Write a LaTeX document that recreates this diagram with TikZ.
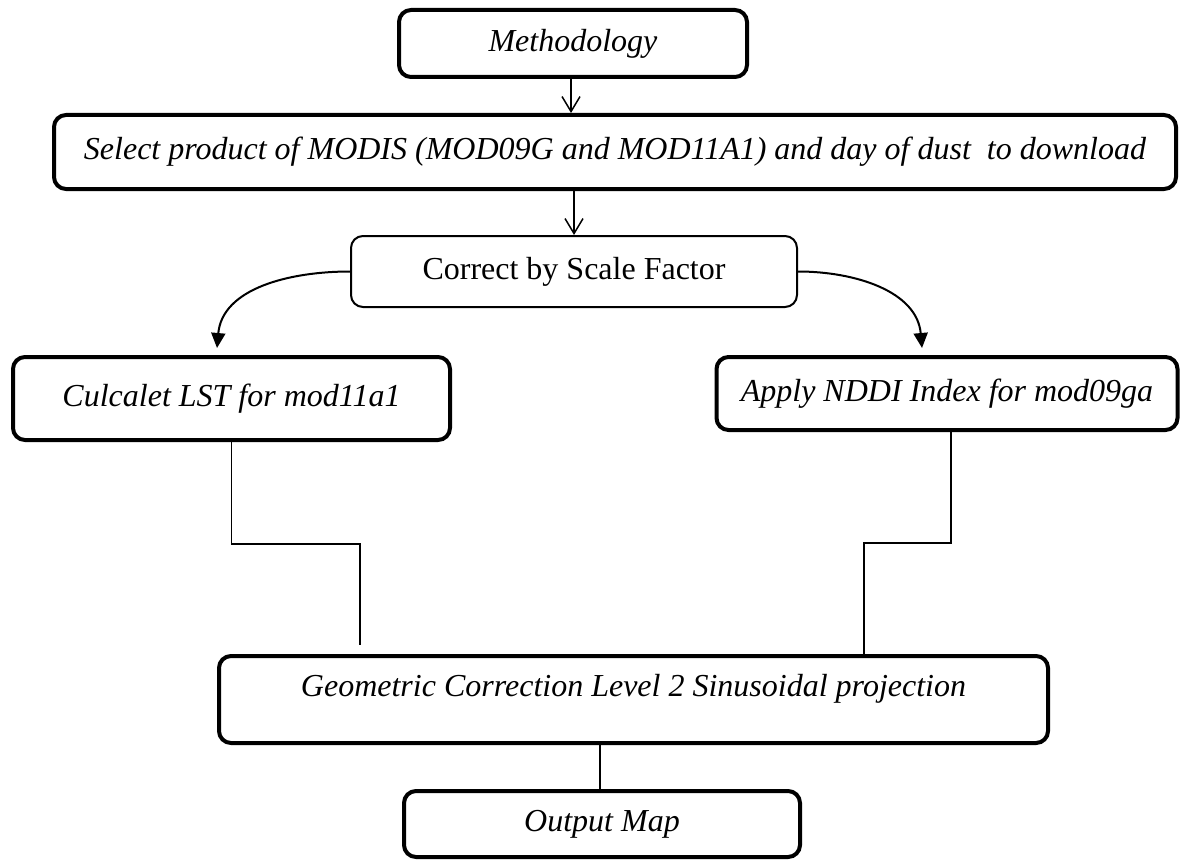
\documentclass[tikz,border=0pt]{standalone}
\usepackage{fontspec}
\setmainfont{Liberation Serif}
\usetikzlibrary{arrows.meta}
\tikzset{
  thickbox/.style={draw=black, line width=4pt, rounded corners=12pt, fill=white,
    font=\fontsize{32}{38}\selectfont\itshape, align=center, inner sep=0pt},
  thinbox/.style={draw=black, line width=2pt, rounded corners=12pt, fill=white,
    font=\fontsize{32}{38}\selectfont, align=center, inner sep=0pt},
  downarr/.style={draw=black, line width=1.5pt, -{Straight Barb[length=15pt,width=18pt,line width=1.5pt]}},
  curvarr/.style={draw=black, line width=2pt, -{Triangle[length=15pt,width=14pt]}},
  conn/.style={draw=black, line width=1.2pt},
  thickconn/.style={draw=black, line width=2.5pt}
}
\begin{document}
\begin{tikzpicture}[x=1pt,y=-1pt]
\useasboundingbox[fill=white] (0,0) rectangle (1182,861);

\node[thickbox, minimum width=348pt, minimum height=67pt] (meth) at (573,43.5) {Methodology};
\node[thickbox, minimum width=1122pt, minimum height=74pt] (sel) at (615,152)
  {Select product of MODIS (MOD09G and MOD11A1) and day of dust\ \ to download};
\node[thinbox, minimum width=446pt, minimum height=71pt] (corr) at (574,271.5) {Correct by Scale Factor};
\node[thickbox, minimum width=437pt, minimum height=83pt] (calc) at (231.5,398.5) {Culcalet LST for mod11a1};
\node[thickbox, minimum width=461pt, minimum height=73pt] (nddi) at (947,393.5) {Apply NDDI Index for mod09ga};
\node[thickbox, minimum width=829pt, minimum height=87pt, text depth=28pt] (geo) at (633.5,699.5)
  {Geometric Correction Level 2 Sinusoidal projection};
\node[thickbox, minimum width=396pt, minimum height=66pt] (out) at (602,824) {Output Map};

\coordinate (stepL) at (360,544);
\coordinate (lend) at (360,645);
\coordinate (stepR) at (864,543);
\coordinate (tipL) at (217,348);
\coordinate (tipR) at (922,348);

\draw[downarr] ([xshift=-2pt]meth.south) -- ([xshift=-2pt]meth.south |- sel.north);
\draw[downarr] (corr.north |- sel.south) -- (corr.north);

\draw[curvarr] (corr.west) to[out=180,in=85] (tipL);
\draw[curvarr] (corr.east) to[out=0,in=95] (tipR);

\draw[conn] (calc.south) |- (stepL) -- (lend);
\draw[conn] ([xshift=4pt]nddi.south) |- (stepR) -- (stepR |- geo.north);

\draw[thickconn] ([xshift=-2pt]geo.south -| out.north) -- ([xshift=-2pt]out.north);
\end{tikzpicture}
\end{document}
